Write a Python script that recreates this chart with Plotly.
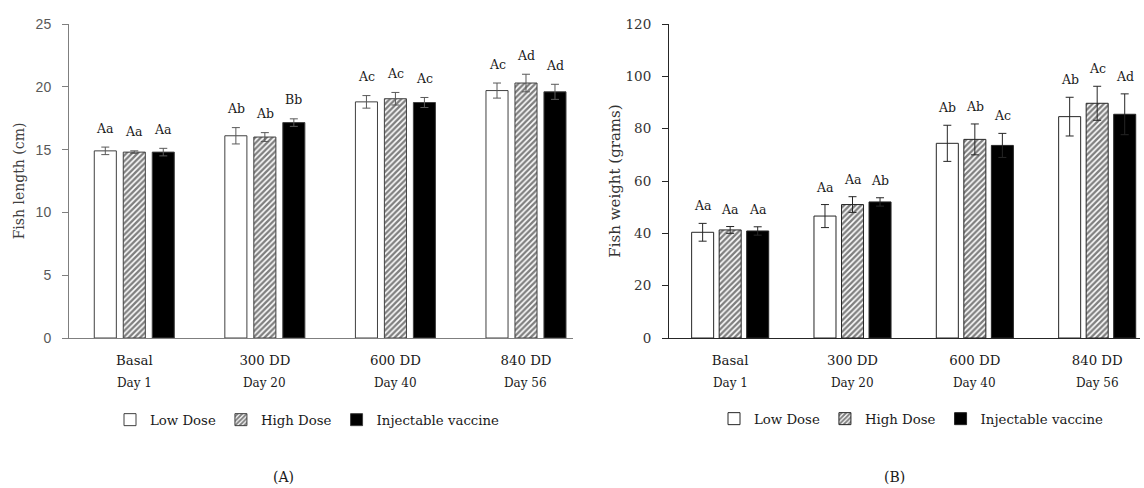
import plotly.graph_objects as go

# ---------------- data ----------------
categories = ["Basal", "300 DD", "600 DD", "840 DD"]
days = ["Day 1", "Day 20", "Day 40", "Day 56"]
series = ["Low Dose", "High Dose", "Injectable vaccine"]

length_low = [14.9, 16.1, 18.8, 19.7]
length_high = [14.8, 16.0, 19.05, 20.3]
length_inj = [14.8, 17.15, 18.75, 19.6]
length_low_err = [0.3, 0.65, 0.5, 0.6]
length_high_err = [0.1, 0.35, 0.5, 0.7]
length_inj_err = [0.3, 0.3, 0.4, 0.6]
length_letters_low = ["Aa", "Ab", "Ac", "Ac"]
length_letters_high = ["Aa", "Ab", "Ac", "Ad"]
length_letters_inj = ["Aa", "Bb", "Ac", "Ad"]

weight_low = [40.4, 46.6, 74.4, 84.6]
weight_high = [41.3, 51.0, 75.9, 89.7]
weight_inj = [40.9, 52.0, 73.6, 85.5]
weight_low_err = [3.4, 4.4, 6.9, 7.4]
weight_high_err = [1.3, 3.0, 5.9, 6.5]
weight_inj_err = [1.6, 1.6, 4.6, 7.8]
weight_letters_low = ["Aa", "Aa", "Ab", "Ab"]
weight_letters_high = ["Aa", "Aa", "Ab", "Ac"]
weight_letters_inj = ["Aa", "Ab", "Ac", "Ad"]

# ---------------- styling ----------------
W, H = 1144, 488
SERIF = "DejaVu Serif"
SANS = "Liberation Sans"

def px_x(p):
    return p / W

def px_y(p):
    return 1 - p / H

fig = go.Figure()

panels = [
    dict(xa="x", ya="y", legend="legend",
         vals=[length_low, length_high, length_inj],
         errs=[length_low_err, length_high_err, length_inj_err],
         letters=[length_letters_low, length_letters_high, length_letters_inj],
         pitch=0.222, width=0.169, line="#404040", err="#595959", shift=19),
    dict(xa="x2", ya="y2", legend="legend2",
         vals=[weight_low, weight_high, weight_inj],
         errs=[weight_low_err, weight_high_err, weight_inj_err],
         letters=[weight_letters_low, weight_letters_high, weight_letters_inj],
         pitch=0.225, width=0.18, line="#262626", err="#262626", shift=17.5),
]

styles = [
    dict(color="white", pattern=None),
    dict(color="white", pattern=dict(shape="/", fgcolor="black", bgcolor="white",
                                     size=4, solidity=0.6)),
    dict(color="black", pattern=None),
]

annotations = []
for p in panels:
    for i, name in enumerate(series):
        marker = dict(color=styles[i]["color"], line=dict(color=p["line"], width=1))
        if styles[i]["pattern"] is not None:
            marker["pattern"] = styles[i]["pattern"]
        off = (i - 1) * p["pitch"]
        fig.add_trace(go.Bar(
            x=categories, y=p["vals"][i], name=name,
            xaxis=p["xa"], yaxis=p["ya"], legend=p["legend"],
            width=p["width"], offset=off - p["width"] / 2,
            marker=marker,
            error_y=dict(type="data", array=p["errs"][i], color=p["err"],
                         thickness=1, width=4),
        ))
        for j, cat in enumerate(categories):
            annotations.append(dict(
                x=j + off, y=p["vals"][i][j] + p["errs"][i][j],
                xref=p["xa"], yref=p["ya"], text=p["letters"][i][j],
                showarrow=False, yanchor="middle", yshift=p["shift"],
                font=dict(family=SERIF, size=12.5, color="#1a1a1a")))
    # day row under category labels
    for j, d in enumerate(days):
        annotations.append(dict(
            x=j, y=px_y(383), xref=p["xa"], yref="paper", text=d,
            showarrow=False, yanchor="middle",
            font=dict(family=SERIF, size=12, color="#1a1a1a")))

annotations.append(dict(x=px_x(271), y=px_y(477), xref="paper", yref="paper",
                        text="(A)", showarrow=False, yanchor="middle",
                        font=dict(family=SERIF, size=14, color="#1a1a1a")))
annotations.append(dict(x=px_x(907), y=px_y(477), xref="paper", yref="paper",
                        text="(B)", showarrow=False, yanchor="middle",
                        font=dict(family=SERIF, size=14, color="#1a1a1a")))

ydom = [px_y(338), px_y(24)]

fig.update_layout(
    width=W, height=H,
    margin=dict(l=0, r=0, t=0, b=0),
    paper_bgcolor="white", plot_bgcolor="white",
    barmode="overlay",
    annotations=annotations,
    xaxis=dict(domain=[px_x(69), px_x(573)], type="category", range=[-0.5, 3.36],
               automargin=False,
               showline=True, linecolor="#7f7f7f", linewidth=1, ticks="",
               showgrid=False, zeroline=False, ticklabelstandoff=10,
               tickfont=dict(family=SERIF, size=13.3, color="#1a1a1a")),
    yaxis=dict(domain=ydom, range=[0, 25], tickvals=[0, 5, 10, 15, 20, 25],
               automargin=False,
               showline=True, linecolor="#7f7f7f", linewidth=1,
               ticks="outside", ticklen=6, tickcolor="#7f7f7f",
               showgrid=False, zeroline=False, ticklabelstandoff=8,
               tickfont=dict(family=SANS, size=14, color="#595959"),
               title=dict(text="Fish length (cm)", standoff=7,
                          font=dict(family=SERIF, size=14, color="#404040"))),
    xaxis2=dict(domain=[px_x(669), px_x(1140)], type="category", range=[-0.5, 3.35],
                automargin=False,
                showline=True, linecolor="#262626", linewidth=1, ticks="",
                showgrid=False, zeroline=False, ticklabelstandoff=10,
                tickfont=dict(family=SERIF, size=13.3, color="#1a1a1a")),
    yaxis2=dict(domain=ydom, range=[0, 120], tickvals=[0, 20, 40, 60, 80, 100, 120],
                anchor="x2", automargin=False,
                showline=True, linecolor="#262626", linewidth=1,
                ticks="outside", ticklen=6, tickcolor="#262626",
                showgrid=False, zeroline=False, ticklabelstandoff=8,
                tickfont=dict(family=SERIF, size=13.5, color="#333333"),
                title=dict(text="Fish weight (grams)", standoff=1,
                           font=dict(family=SERIF, size=15, color="#333333"))),
    legend=dict(orientation="h", x=px_x(110), xanchor="left", y=px_y(420),
                yanchor="middle",
                font=dict(family=SERIF, size=13.3, color="#1a1a1a"),
                bgcolor="rgba(0,0,0,0)"),
    legend2=dict(orientation="h", x=px_x(714), xanchor="left", y=px_y(419),
                 yanchor="middle",
                 font=dict(family=SERIF, size=13.3, color="#1a1a1a"),
                 bgcolor="rgba(0,0,0,0)"),
)

fig.write_html("out.html")
